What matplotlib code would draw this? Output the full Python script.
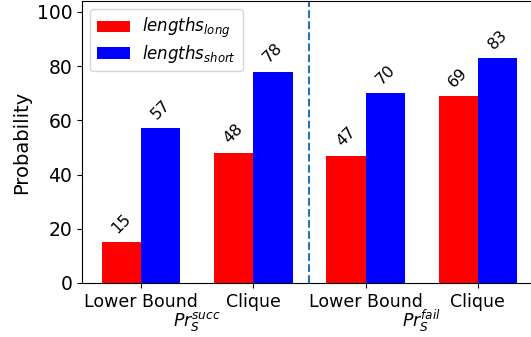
import numpy as np
import matplotlib
matplotlib.use("Agg")
import matplotlib.pyplot as plt

# probabilities per method, for success / failure settings
methods = ["Lower Bound", "Clique", "Lower Bound", "Clique"]
long_vals = [15, 48, 47, 69]
short_vals = [57, 78, 70, 83]
group_labels = [r"$Pr_S^{succ}$", r"$Pr_S^{fail}$"]

fs = 12.5
fig = plt.figure(figsize=(5.31, 3.37), dpi=100)
ax = fig.add_axes([82 / 531, 54 / 337, 456 / 531, 282 / 337])

x = np.arange(len(methods))
w = 0.35
b1 = ax.bar(x - w / 2, long_vals, w, color="red", label=r"$lengths_{long}$")
b2 = ax.bar(x + w / 2, short_vals, w, color="blue", label=r"$lengths_{short}$")

for bars in (b1, b2):
    for rect in bars:
        h = rect.get_height()
        ax.annotate(f"{h:.0f}", (rect.get_x() + rect.get_width() / 2, h),
                    xytext=(0, 4.5), textcoords="offset points",
                    ha="center", va="bottom", rotation=45, fontsize=11.5)

ax.axvline(1.5, color="C0", linestyle="--")

ax.set_xticks(x)
ax.set_xticklabels(methods, fontsize=fs)
ax.tick_params(axis="y", labelsize=13.5)
ax.set_ylabel("Probability", fontsize=14)
ax.set_ylim(0, 104)
ax.set_xlim(-0.525, 3.535)

# group captions under each pair of ticks
for gx, lab in zip([0.5, 2.5], group_labels):
    ax.text(gx, -0.135, lab, transform=ax.get_xaxis_transform(),
            ha="center", va="center", fontsize=fs)

ax.legend(loc="upper left", fontsize=12, bbox_to_anchor=(0.0, 1.0),
          borderaxespad=0.5, labelspacing=0.15, handletextpad=0.7)

fig.savefig("out.png", dpi=100)
